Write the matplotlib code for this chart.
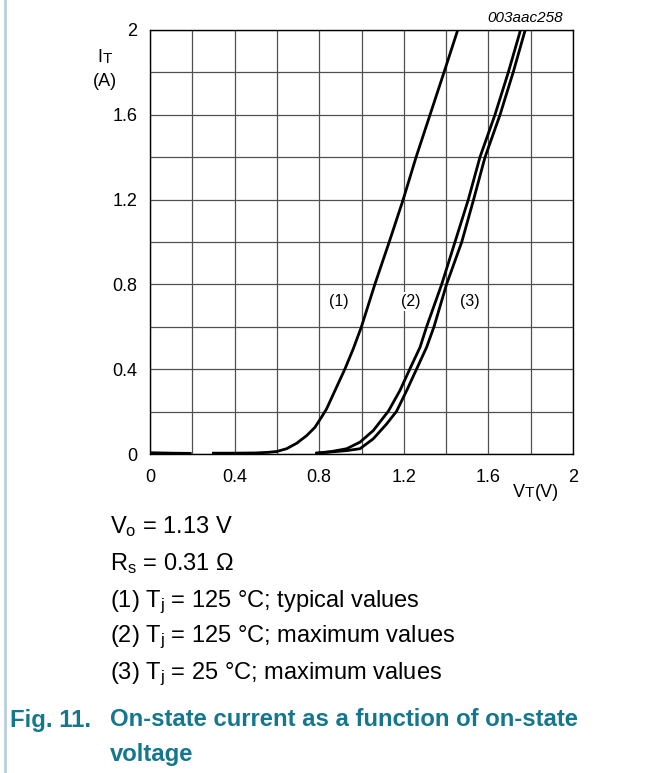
import numpy as np
import matplotlib
matplotlib.use("Agg")
import matplotlib.pyplot as plt
from matplotlib.ticker import MultipleLocator

# ---------------- Data ---------------- #

nan = np.nan

# (1) Tj = 125 C typical
vt_1 = [0.0, 0.1, 0.19, nan, 0.3, 0.4, 0.5, 0.56, 0.6, 0.646, 0.694, 0.741, 0.78,
        0.811, 0.835, 0.875, 0.922, 0.961, 1.0, 1.063, 1.131, 1.197, 1.258,
        1.324, 1.39, 1.455]
it_1 = [0.006, 0.004, 0.003, nan, 0.004, 0.004, 0.005, 0.008, 0.012, 0.025, 0.051, 0.087, 0.126,
        0.174, 0.213, 0.30, 0.402, 0.496, 0.601, 0.8, 1.0, 1.2, 1.4,
        1.6, 1.8, 2.0]

# (2) Tj = 125 C maximum
vt_2 = [0.788, 0.86, 0.93, 0.993, 1.056, 1.127, 1.182, 1.229, 1.277, 1.308,
        1.379, 1.442, 1.505, 1.56, 1.631, 1.694, 1.752]
it_2 = [0.004, 0.012, 0.025, 0.056, 0.111, 0.202, 0.30, 0.402, 0.504, 0.601,
        0.8, 1.0, 1.2, 1.4, 1.6, 1.8, 2.0]

# (3) Tj = 25 C maximum
vt_3 = [0.788, 0.86, 0.93, 0.993, 1.056, 1.119, 1.166, 1.214, 1.261, 1.308, 1.343,
        1.402, 1.474, 1.53, 1.584, 1.655, 1.717, 1.774]
it_3 = [0.004, 0.01, 0.016, 0.025, 0.072, 0.142, 0.202, 0.30, 0.402, 0.504, 0.601,
        0.8, 1.0, 1.2, 1.4, 1.6, 1.8, 2.0]

x_ticks = [0, 0.4, 0.8, 1.2, 1.6, 2]
x_tick_labels = ["0", "0.4", "0.8", "1.2", "1.6", "2"]
y_ticks = [0, 0.4, 0.8, 1.2, 1.6, 2]
y_tick_labels = ["0", "0.4", "0.8", "1.2", "1.6", "2"]

curve_labels = ["(1)", "(2)", "(3)"]
curve_label_x = [0.895, 1.234, 1.51]
curve_label_y = 0.718

notes = [
    "V$_o$ = 1.13 V",
    "R$_s$ = 0.31 \u03a9",
    "(1) T$_j$ = 125 \u00b0C; typical values",
    "(2) T$_j$ = 125 \u00b0C; maximum values",
    "(3) T$_j$ = 25 \u00b0C; maximum values",
]
note_y = [527, 564, 602, 637, 674]

# ---------------- Figure ---------------- #

W, H = 663, 773
plt.rcParams["font.family"] = ["Liberation Sans", "DejaVu Sans"]
plt.rcParams["mathtext.default"] = "regular"

fig = plt.figure(figsize=(W / 100, H / 100), dpi=100)


def px(x, y):
    return x / W, 1 - y / H


ax = fig.add_axes([150 / W, 1 - 454 / H, 423 / W, 424 / H])
for v, i in ((vt_1, it_1), (vt_2, it_2), (vt_3, it_3)):
    ax.plot(v, i, color="black", lw=2.0, solid_joinstyle="round", zorder=3)

ax.set_xlim(0, 2)
ax.set_ylim(0, 2)
ax.set_xticks(x_ticks)
ax.set_xticklabels(x_tick_labels)
ax.set_yticks(y_ticks)
ax.set_yticklabels(y_tick_labels)
ax.xaxis.set_minor_locator(MultipleLocator(0.2))
ax.yaxis.set_minor_locator(MultipleLocator(0.2))
ax.tick_params(which="both", length=0, labelsize=13)
ax.tick_params(axis="x", pad=11)
ax.tick_params(axis="y", pad=9)
ax.grid(True, which="both", color="#505050", lw=0.9)
ax.set_axisbelow(True)
for s in ax.spines.values():
    s.set_color("black")
    s.set_linewidth(1.0)

for lab, lx in zip(curve_labels, curve_label_x):
    ax.text(lx, curve_label_y, lab, ha="center", va="center", fontsize=11.5,
            bbox=dict(facecolor="white", edgecolor="none", pad=1.5), zorder=2)

# axis labels (subscript T: smaller, same baseline)
fig.text(*px(102, 62), "I", ha="right", va="baseline", fontsize=13)
fig.text(*px(103, 63), "T", ha="left", va="baseline", fontsize=11)
fig.text(*px(105, 81), "(A)", ha="center", va="center", fontsize=13)
fig.text(*px(525, 497), "V", ha="right", va="baseline", fontsize=13)
fig.text(*px(525, 497), "T", ha="left", va="baseline", fontsize=11)
fig.text(*px(535, 497), "(V)", ha="left", va="baseline", fontsize=13)
fig.text(*px(563, 18), "003aac258", ha="right", va="center", fontsize=11, style="italic")

# notes under the chart
for t, y in zip(notes, note_y):
    fig.text(*px(110, y), t, ha="left", va="center", fontsize=17)

teal = "#14778d"
fig.text(*px(10, 720), "Fig. 11.", ha="left", va="center", fontsize=17.2,
         weight="bold", color=teal)
fig.text(*px(110, 720), "On-state current as a function of on-state", ha="left",
         va="center", fontsize=17.2, weight="bold", color=teal)
fig.text(*px(110, 755), "voltage", ha="left", va="center", fontsize=17.2,
         weight="bold", color=teal)

# left margin rule
fig.add_artist(plt.Line2D([5 / W, 5 / W], [0, 1], color="#b4d0de", lw=2.0))

fig.savefig("out.png", dpi=100)
